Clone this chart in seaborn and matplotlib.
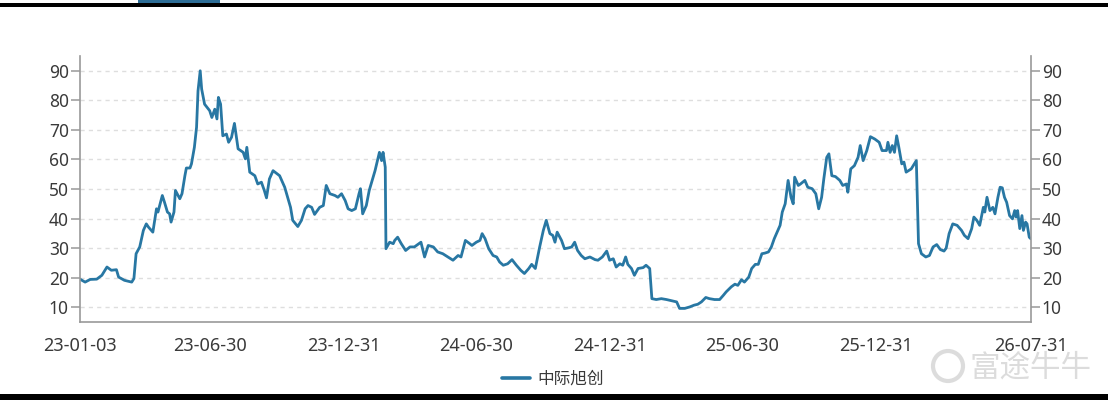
import matplotlib
matplotlib.use('Agg')
import matplotlib.pyplot as plt
from matplotlib.patches import Rectangle, Ellipse
import pandas as pd
import seaborn as sns

# -------------------- DATA --------------------
series_name = '中际旭创'

trade_dates = [
    '2023-01-03', '2023-01-10', '2023-01-17', '2023-01-26', '2023-02-02', '2023-02-09',
    '2023-02-15', '2023-02-22', '2023-02-25', '2023-03-05', '2023-03-15', '2023-03-18',
    '2023-03-21', '2023-03-26', '2023-03-31', '2023-04-04', '2023-04-07', '2023-04-13',
    '2023-04-18', '2023-04-20', '2023-04-26', '2023-04-29', '2023-05-03', '2023-05-06',
    '2023-05-08', '2023-05-12', '2023-05-14', '2023-05-20', '2023-05-23', '2023-05-27',
    '2023-05-29', '2023-06-03', '2023-06-05', '2023-06-09', '2023-06-12', '2023-06-14',
    '2023-06-17', '2023-06-19', '2023-06-23', '2023-06-30', '2023-07-03', '2023-07-07',
    '2023-07-10', '2023-07-12', '2023-07-15', '2023-07-18', '2023-07-23', '2023-07-26',
    '2023-07-30', '2023-08-03', '2023-08-08', '2023-08-15', '2023-08-18', '2023-08-20',
    '2023-08-24', '2023-08-31', '2023-09-04', '2023-09-09', '2023-09-13', '2023-09-16',
    '2023-09-20', '2023-09-25', '2023-10-04', '2023-10-11', '2023-10-19', '2023-10-22',
    '2023-10-29', '2023-11-03', '2023-11-08', '2023-11-12', '2023-11-17', '2023-11-21',
    '2023-11-28', '2023-12-03', '2023-12-07', '2023-12-12', '2023-12-19', '2023-12-23',
    '2023-12-28', '2024-01-02', '2024-01-06', '2024-01-11', '2024-01-16', '2024-01-21',
    '2024-01-23', '2024-01-26', '2024-01-31', '2024-02-04', '2024-02-12', '2024-02-18',
    '2024-02-21', '2024-02-23', '2024-02-26', '2024-02-27', '2024-03-03', '2024-03-08',
    '2024-03-10', '2024-03-14', '2024-03-19', '2024-03-25', '2024-03-31', '2024-04-06',
    '2024-04-15', '2024-04-20', '2024-04-25', '2024-05-02', '2024-05-08', '2024-05-15',
    '2024-05-22', '2024-05-29', '2024-06-05', '2024-06-09', '2024-06-15', '2024-06-21',
    '2024-06-24', '2024-06-30', '2024-07-05', '2024-07-08', '2024-07-12', '2024-07-17',
    '2024-07-23', '2024-07-28', '2024-08-01', '2024-08-06', '2024-08-12', '2024-08-18',
    '2024-08-24', '2024-08-30', '2024-09-04', '2024-09-10', '2024-09-14', '2024-09-19',
    '2024-09-25', '2024-09-30', '2024-10-04', '2024-10-09', '2024-10-13', '2024-10-16',
    '2024-10-19', '2024-10-25', '2024-10-29', '2024-11-04', '2024-11-08', '2024-11-12',
    '2024-11-16', '2024-11-21', '2024-11-26', '2024-12-03', '2024-12-10', '2024-12-14',
    '2024-12-20', '2024-12-26', '2024-12-30', '2025-01-04', '2025-01-08', '2025-01-13',
    '2025-01-17', '2025-01-21', '2025-01-24', '2025-01-29', '2025-02-02', '2025-02-07',
    '2025-02-14', '2025-02-18', '2025-02-23', '2025-02-26', '2025-03-04', '2025-03-11',
    '2025-03-18', '2025-03-27', '2025-04-01', '2025-04-05', '2025-04-12', '2025-04-19',
    '2025-04-25', '2025-04-30', '2025-05-05', '2025-05-11', '2025-05-16', '2025-05-23',
    '2025-05-30', '2025-06-04', '2025-06-08', '2025-06-15', '2025-06-20', '2025-06-24',
    '2025-06-29', '2025-07-03', '2025-07-09', '2025-07-13', '2025-07-18', '2025-07-22',
    '2025-07-27', '2025-07-31', '2025-08-05', '2025-08-09', '2025-08-13', '2025-08-16',
    '2025-08-21', '2025-08-24', '2025-08-28', '2025-09-01', '2025-09-05', '2025-09-08',
    '2025-09-10', '2025-09-15', '2025-09-18', '2025-09-24', '2025-09-28', '2025-10-04',
    '2025-10-09', '2025-10-13', '2025-10-17', '2025-10-20', '2025-10-24', '2025-10-27',
    '2025-10-31', '2025-11-05', '2025-11-11', '2025-11-15', '2025-11-20', '2025-11-22',
    '2025-11-26', '2025-12-01', '2025-12-06', '2025-12-09', '2025-12-13', '2025-12-18',
    '2025-12-23', '2025-12-29', '2026-01-04', '2026-01-08', '2026-01-14', '2026-01-16',
    '2026-01-19', '2026-01-22', '2026-01-25', '2026-01-28', '2026-01-31', '2026-02-04',
    '2026-02-07', '2026-02-10', '2026-02-17', '2026-02-24', '2026-02-27', '2026-03-03',
    '2026-03-09', '2026-03-14', '2026-03-19', '2026-03-24', '2026-03-29', '2026-04-03',
    '2026-04-06', '2026-04-10', '2026-04-15', '2026-04-21', '2026-04-27', '2026-05-01',
    '2026-05-06', '2026-05-11', '2026-05-14', '2026-05-18', '2026-05-22', '2026-05-27',
    '2026-05-29', '2026-06-01', '2026-06-05', '2026-06-09', '2026-06-12', '2026-06-16',
    '2026-06-19', '2026-06-22', '2026-06-25', '2026-06-28', '2026-07-02', '2026-07-06',
    '2026-07-09', '2026-07-11', '2026-07-13', '2026-07-16', '2026-07-19', '2026-07-21',
    '2026-07-24', '2026-07-26', '2026-07-29', '2026-07-31',
]

prices = [
    19.5, 18.5, 19.4, 19.5, 20.8, 23.6,
    22.5, 22.7, 20.2, 19.1, 18.5, 19.7,
    28.1, 30.4, 36.0, 38.2, 37.1, 35.4,
    43.3, 42.2, 47.8, 45.5, 42.2, 41.6,
    38.8, 42.2, 49.5, 46.7, 48.4, 54.5,
    57.1, 57.1, 58.5, 64.1, 70.9, 83.2,
    90.0, 83.8, 78.7, 76.5, 74.2, 77.0,
    73.7, 81.0, 78.7, 68.0, 68.6, 65.8,
    67.5, 72.2, 63.6, 62.4, 60.2, 64.1,
    55.7, 54.5, 51.7, 52.3, 49.5, 47.0,
    53.4, 56.2, 54.5, 50.6, 43.8, 39.4,
    37.3, 39.4, 43.3, 44.4, 43.8, 41.4,
    43.8, 44.4, 51.2, 48.4, 47.8, 47.2,
    48.4, 46.1, 43.3, 42.7, 43.3, 48.4,
    50.1, 41.6, 44.4, 49.5, 56.2, 62.4,
    59.6, 62.4, 57.4, 29.8, 32.0, 31.5,
    32.6, 33.7, 31.5, 29.2, 30.4, 30.4,
    32.0, 27.0, 30.9, 30.4, 28.7, 28.1,
    27.0, 25.9, 27.5, 27.0, 32.6, 31.5,
    30.9, 32.0, 32.6, 34.9, 33.2, 29.8,
    27.5, 27.0, 25.3, 24.2, 24.7, 26.1,
    24.2, 22.5, 21.4, 23.1, 24.5, 23.1,
    30.4, 36.0, 39.4, 34.9, 34.3, 32.0,
    35.4, 32.6, 29.8, 30.1, 30.4, 32.0,
    29.2, 27.5, 26.4, 27.0, 26.1, 25.9,
    27.0, 29.0, 25.9, 26.4, 23.6, 24.7,
    24.2, 27.0, 24.5, 23.1, 20.8, 23.1,
    23.4, 24.2, 23.1, 12.9, 12.6, 12.9,
    12.6, 12.1, 11.8, 9.6, 9.6, 10.1,
    10.7, 11.0, 11.8, 13.3, 12.9, 12.6,
    12.6, 14.0, 15.2, 16.9, 17.8, 17.4,
    19.3, 18.5, 20.2, 23.1, 24.5, 24.5,
    28.1, 28.3, 28.7, 30.4, 33.2, 34.9,
    37.7, 42.2, 45.0, 52.9, 47.2, 45.0,
    54.0, 51.2, 51.7, 52.9, 50.6, 50.1,
    48.4, 43.3, 47.2, 53.4, 60.7, 61.9,
    54.5, 54.2, 52.9, 51.2, 51.7, 48.9,
    56.8, 57.9, 60.7, 64.7, 59.6, 63.0,
    67.7, 66.9, 65.8, 63.0, 63.0, 65.8,
    62.4, 64.7, 62.4, 68.0, 64.1, 58.5,
    59.1, 55.7, 56.8, 59.6, 31.5, 28.1,
    27.0, 27.5, 30.4, 31.2, 29.5, 29.0,
    30.0, 34.9, 38.2, 37.7, 36.0, 34.3,
    33.2, 36.6, 40.5, 39.4, 37.7, 43.8,
    42.2, 47.2, 42.7, 43.8, 41.6, 47.2,
    50.6, 50.4, 47.2, 45.5, 41.0, 39.9,
    42.7, 40.5, 42.7, 36.6, 41.0, 36.0,
    38.8, 38.2, 33.7, 33.2,
]

label_dates = ['2023-01-03', '2023-06-30', '2023-12-31', '2024-06-30',
               '2024-12-31', '2025-06-30', '2025-12-31', '2026-07-31']
minor_dates = ['2023-03-31', '2023-09-30', '2024-03-31', '2024-09-30',
               '2025-03-31', '2025-09-30', '2026-03-31', '2026-06-30']
y_ticks = [10, 20, 30, 40, 50, 60, 70, 80, 90]

# -------------------- STYLE --------------------
sns.set_theme(style='white')
plt.rcParams['font.family'] = ['Noto Sans', 'Noto Sans CJK SC', 'DejaVu Sans']

line_color = '#2877a3'
axis_color = '#999999'
text_color = '#3a3a3a'

df = pd.DataFrame({'date': pd.to_datetime(trade_dates), 'value': prices})

fig = plt.figure(figsize=(11.08, 4.0), dpi=100)
ax = fig.add_axes([80 / 1108, 1 - 322 / 400, 950.7 / 1108, 266 / 400])

sns.lineplot(data=df, x='date', y='value', ax=ax, color=line_color,
             linewidth=2.0, label=series_name, legend=False)

ax.set_xlim(pd.Timestamp('2023-01-03'), pd.Timestamp('2026-07-31'))
ax.set_ylim(5, 95)
ax.set_xlabel('')
ax.set_ylabel('')

# x axis
ax.set_xticks(pd.to_datetime(label_dates))
ax.set_xticklabels([pd.Timestamp(d).strftime('%y-%m-%d') for d in label_dates])
ax.set_xticks(pd.to_datetime(minor_dates), minor=True)
ax.tick_params(axis='x', which='both', direction='out', length=8.5, width=1.1,
               color=axis_color, labelsize=13, labelcolor=text_color, pad=2)

# y axis on both sides
ax.set_yticks(y_ticks)
ax.yaxis.set_ticks_position('both')
ax.tick_params(axis='y', which='both', direction='out', length=6.5, width=1.1,
               color=axis_color, labelsize=12.5, labelcolor=text_color, pad=1.5,
               labelleft=True, labelright=True)

ax.grid(axis='y', color='#dedede', linestyle=(0, (3, 3)), linewidth=1.0)
ax.grid(axis='x', visible=False)

for side in ['left', 'right', 'bottom']:
    ax.spines[side].set_color(axis_color)
    ax.spines[side].set_linewidth(1.2)
ax.spines['top'].set_visible(False)

# legend
handles, labels = ax.get_legend_handles_labels()
leg = fig.legend(handles, labels, loc='center', bbox_to_anchor=(553 / 1108, 1 - 380 / 400),
                 frameon=False, fontsize=12, handlelength=1.7, handletextpad=0.45)
for line in leg.get_lines():
    line.set_linewidth(2.6)
for t in leg.get_texts():
    t.set_color(text_color)

# watermark
fig.text(1030 / 1108, 1 - 368 / 400, '富途牛牛', ha='center', va='center',
         fontsize=22, color='#dcdcdc', family=['Noto Sans CJK SC', 'DejaVu Sans'])
fig.add_artist(Ellipse((948 / 1108, 1 - 366 / 400), 30 / 1108, 30 / 400,
                       transform=fig.transFigure, facecolor='none',
                       edgecolor='#dcdcdc', linewidth=3))

# page frame bits
fig.add_artist(Rectangle((0, 1 - 7 / 400), 1, 4 / 400, transform=fig.transFigure,
                         facecolor='black', edgecolor='none'))
fig.add_artist(Rectangle((138 / 1108, 1 - 3 / 400), 82 / 1108, 3 / 400,
                         transform=fig.transFigure, facecolor='#2d6d96', edgecolor='none'))
fig.add_artist(Rectangle((0, 0), 1, 6 / 400, transform=fig.transFigure,
                         facecolor='black', edgecolor='none'))

fig.savefig('out.png', dpi=100)
plt.close(fig)
